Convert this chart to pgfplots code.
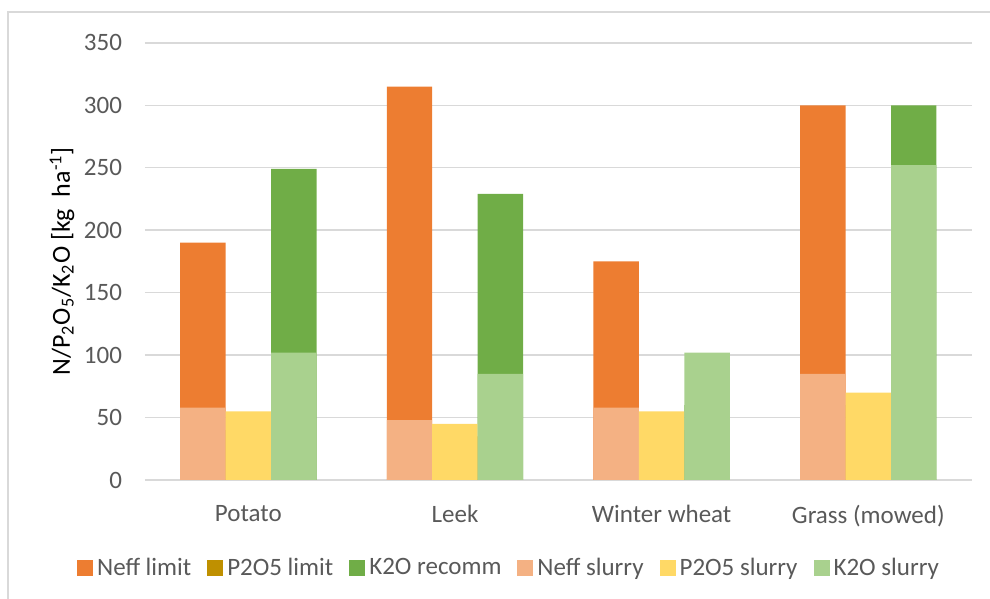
\documentclass[border=0pt]{standalone}
\usepackage{pgfplots}
\pgfplotsset{compat=1.18}
\usepackage{fontspec}
\setmainfont{Carlito}
\definecolor{nefflim}{HTML}{ED7D31}
\definecolor{plim}{HTML}{BF9000}
\definecolor{krec}{HTML}{70AD47}
\definecolor{neffsl}{HTML}{F4B183}
\definecolor{psl}{HTML}{FFD966}
\definecolor{ksl}{HTML}{A9D18E}
\definecolor{gridgray}{HTML}{D9D9D9}
\definecolor{txtgray}{HTML}{595959}

\begin{document}
\begin{tikzpicture}
\useasboundingbox (0,0) rectangle (495pt,299.5pt);
% chart frame (left and top edges visible)
\draw[gridgray,line width=0.75pt] (4pt,0) -- (4pt,293.5pt) -- (495pt,293.5pt);
\begin{axis}[
  at={(72.5pt,59.5pt)}, anchor=south west,
  scale only axis, width=413.3pt, height=218.6pt,
  ybar, bar width=0.22,
  xmin=-0.5, xmax=3.5, ymin=0, ymax=350,
  xtick={0,1,2,3},
  xticklabels={Potato,Leek,Winter wheat,Grass (mowed)},
  ytick={0,50,...,350},
  ymajorgrids, grid style={gridgray,line width=0.75pt},
  axis line style={draw=none},
  major tick length=0pt,
  /pgf/number format/assume math mode=true,
  tick label style={font=\fontsize{12.5}{14}\selectfont,text=txtgray},
  yticklabel style={xshift=-8pt},
  xticklabel style={yshift=-9pt},
  ylabel={N/P\textsubscript{2}O\textsubscript{5}/K\textsubscript{2}O [kg\ \ ha\textsuperscript{-1}]},
  ylabel style={at={([xshift=-41.5pt]axis description cs:0,0.5)},anchor=center,
    font=\fontsize{13}{15}\selectfont},
  legend columns=6,
  legend style={draw=none,fill=none,at={(0.4416,-0.201)},anchor=center,
    font=\fontsize{12.5}{14}\selectfont,text=txtgray,
    /tikz/every even column/.append style={column sep=6pt}},
  legend image code/.code={\fill[#1,draw=none] (0pt,-4pt) rectangle (8pt,4pt);},
]
% limits / recommendations (drawn behind)
\addplot[fill=nefflim,draw=none,bar shift=-0.22] coordinates {(0,190) (1,315) (2,175) (3,300)};
\addlegendentry{Neff limit}
\addplot[fill=plim,draw=none,bar shift=0] coordinates {(0,40) (1,35) (2,40) (3,60)};
\addlegendentry{P2O5 limit}
\addplot[fill=krec,draw=none,bar shift=0.22] coordinates {(0,249) (1,229) (2,60) (3,300)};
\addlegendentry{K2O recomm}
% slurry contributions (drawn in front)
\addplot[fill=neffsl,draw=none,bar shift=-0.22] coordinates {(0,58) (1,48) (2,58) (3,85)};
\addlegendentry{Neff slurry}
\addplot[fill=psl,draw=none,bar shift=0] coordinates {(0,55) (1,45) (2,55) (3,70)};
\addlegendentry{P2O5 slurry}
\addplot[fill=ksl,draw=none,bar shift=0.22] coordinates {(0,102) (1,85) (2,102) (3,252)};
\addlegendentry{K2O slurry}
\end{axis}
\end{tikzpicture}
\end{document}
